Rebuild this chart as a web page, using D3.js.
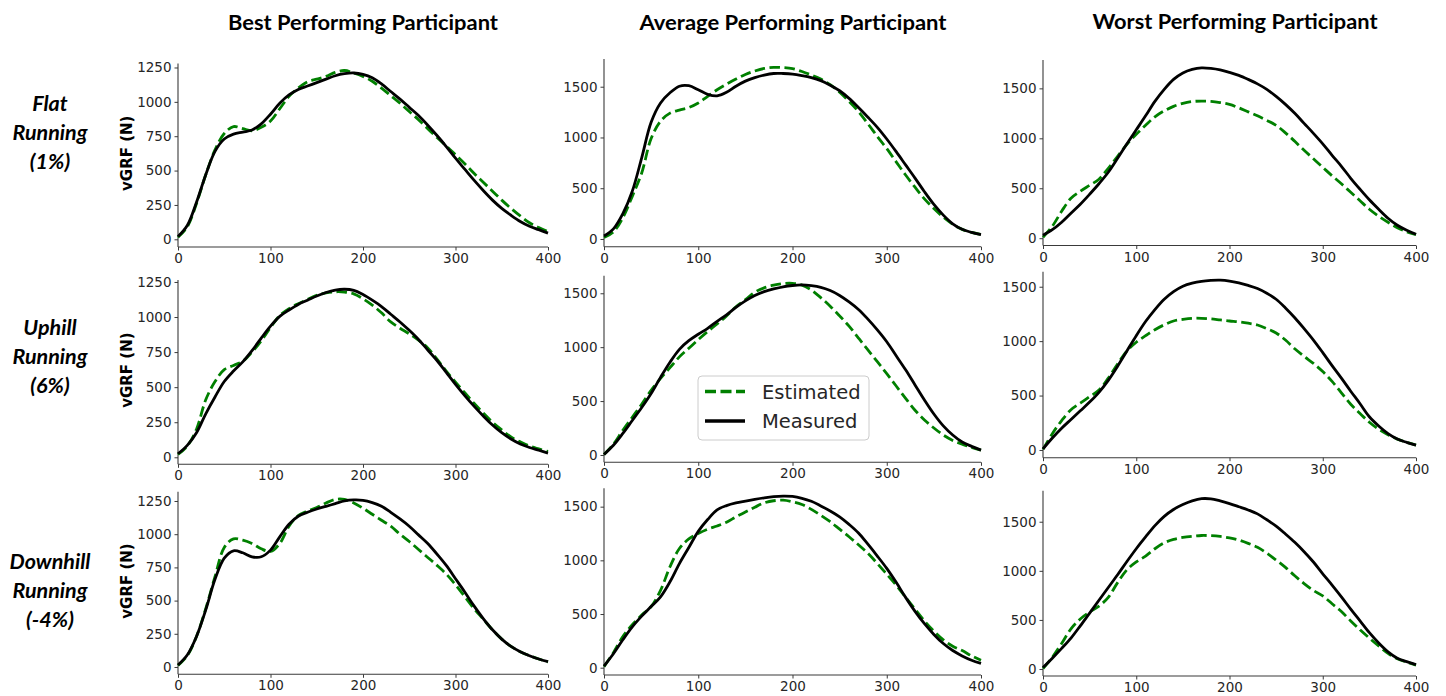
<!DOCTYPE html>
<html>
<head>
<meta charset="utf-8">
<script src="https://cdn.jsdelivr.net/npm/d3@7"></script>
<style>
  html, body { margin: 0; padding: 0; background: #fff; }
  svg { display: block; }
</style>
</head>
<body>
<svg id="chart" width="1446" height="696"></svg>
<script>
// ---------------- DATA ----------------
const columnTitles = ["Best Performing Participant", "Average Performing Participant", "Worst Performing Participant"];
const rowLabels = [["Flat", "Running", "(1%)"], ["Uphill", "Running", "(6%)"], ["Downhill", "Running", "(-4%)"]];
const yAxisLabel = "vGRF (N)";
const seriesNames = ["Estimated", "Measured"];
const xTicks = [0, 100, 200, 300, 400];
const yTicksBest = [0, 250, 500, 750, 1000, 1250];
const yTicksOther = [0, 500, 1000, 1500];
const xDomain = [0, 400];

const sampleX = [0,10,20,30,40,50,60,70,80,90,100,110,120,130,140,150,160,170,180,190,200,
                 210,220,230,240,250,260,270,280,290,300,310,320,330,340,350,360,370,380,390,400];

// Row 1: Flat running
const flatBestMeasured  = [20,100,270,470,640,730,765,780,795,840,910,990,1050,1090,1115,1140,1165,1190,1205,1210,1200,1175,1130,1075,1020,960,900,830,755,675,590,510,430,355,285,225,175,130,95,70,45];
const flatBestEstimated = [15,90,260,470,650,770,820,805,790,815,860,950,1040,1100,1145,1165,1185,1215,1228,1210,1185,1150,1100,1045,990,930,870,805,740,680,615,550,480,415,350,285,225,170,120,85,55];
const flatAvgMeasured   = [30,100,250,470,800,1150,1340,1440,1505,1510,1470,1425,1410,1445,1505,1555,1590,1615,1630,1630,1625,1610,1590,1560,1515,1460,1385,1295,1200,1100,985,860,730,600,465,340,235,150,95,65,43];
const flatAvgEstimated  = [15,70,210,420,650,990,1160,1240,1270,1295,1340,1405,1470,1525,1575,1620,1655,1680,1690,1688,1678,1650,1615,1575,1520,1445,1355,1255,1135,1010,890,760,630,510,395,300,215,145,95,65,45];
const flatWorstMeasured = [30,85,160,250,340,440,545,660,800,945,1085,1225,1370,1490,1590,1655,1690,1705,1700,1685,1660,1630,1590,1545,1490,1420,1340,1250,1150,1050,945,830,720,600,490,385,290,200,130,80,40];
const flatWorstEstimated= [10,120,270,400,470,530,590,700,820,940,1040,1130,1215,1275,1320,1350,1368,1373,1370,1358,1340,1305,1265,1225,1180,1130,1055,970,880,795,710,625,545,460,375,290,220,160,105,65,35];

// Row 2: Uphill running
const upBestMeasured    = [25,85,175,310,430,540,615,680,760,850,935,1005,1050,1090,1120,1150,1175,1192,1198,1190,1160,1120,1075,1020,965,905,840,765,690,605,520,440,365,295,230,175,130,95,70,50,30];
const upBestEstimated   = [20,80,200,410,540,625,655,685,750,830,925,1010,1060,1095,1125,1155,1172,1180,1178,1165,1130,1085,1030,965,920,880,835,780,700,615,535,460,385,315,250,195,145,110,80,60,42];
const upAvgMeasured     = [5,90,200,320,440,570,720,860,980,1060,1120,1175,1240,1300,1370,1430,1480,1515,1540,1560,1572,1577,1570,1555,1525,1480,1420,1350,1260,1160,1050,920,790,650,510,380,270,185,120,80,45];
const upAvgEstimated    = [5,100,230,350,470,600,710,810,910,990,1070,1145,1215,1290,1375,1440,1510,1550,1575,1590,1592,1575,1530,1460,1380,1290,1195,1085,975,865,755,640,525,415,325,250,185,135,100,70,45];
const upWorstMeasured   = [10,110,200,280,360,440,530,640,770,910,1050,1180,1290,1385,1455,1505,1533,1550,1558,1560,1552,1535,1512,1483,1440,1385,1305,1215,1115,1010,895,775,660,540,425,305,220,150,100,70,45];
const upWorstEstimated  = [5,150,270,370,430,490,550,660,790,910,990,1050,1105,1150,1185,1200,1210,1210,1205,1195,1185,1178,1165,1148,1115,1075,1010,930,860,795,720,630,525,420,335,255,190,140,100,70,45];

// Row 3: Downhill running
const downBestMeasured  = [15,90,230,430,660,820,875,860,830,830,880,980,1075,1135,1165,1190,1210,1230,1250,1258,1255,1238,1210,1165,1115,1060,995,930,850,765,665,565,460,365,280,210,155,115,85,60,40];
const downBestEstimated = [12,85,230,440,680,900,965,955,930,890,870,930,1060,1140,1175,1200,1235,1262,1262,1235,1195,1150,1105,1060,1000,945,885,825,765,700,620,530,440,360,280,210,155,115,85,60,38];
const downAvgMeasured   = [15,130,260,380,480,570,660,800,970,1120,1270,1380,1470,1510,1535,1552,1568,1582,1593,1598,1595,1578,1550,1507,1460,1405,1335,1255,1150,1040,925,795,655,525,410,310,225,160,110,70,40];
const downAvgEstimated  = [10,140,290,400,490,570,720,940,1110,1200,1250,1290,1320,1355,1405,1450,1495,1535,1555,1560,1545,1520,1475,1420,1360,1290,1220,1145,1065,970,870,770,655,545,435,340,260,200,160,110,70];
const downWorstMeasured = [15,110,210,315,440,570,700,830,960,1095,1225,1345,1460,1555,1625,1675,1712,1735,1733,1712,1685,1653,1620,1580,1520,1455,1375,1290,1195,1090,970,855,735,610,490,370,265,175,110,75,45];
const downWorstEstimated= [5,120,260,410,510,580,640,730,880,1010,1090,1150,1225,1285,1320,1340,1352,1360,1358,1350,1335,1313,1280,1240,1180,1110,1035,950,870,800,745,665,585,490,400,315,235,160,105,70,40];

// y-axis ranges of each panel (row-major)
const yDomains = [
  [-56, 1279], [-76, 1773], [-73, 1784],
  [-50, 1264], [-68, 1663], [-71, 1638],
  [-55, 1320], [-68, 1671], [-71, 1816]
];

const panelSeries = [
  [flatBestEstimated, flatBestMeasured], [flatAvgEstimated, flatAvgMeasured], [flatWorstEstimated, flatWorstMeasured],
  [upBestEstimated, upBestMeasured], [upAvgEstimated, upAvgMeasured], [upWorstEstimated, upWorstMeasured],
  [downBestEstimated, downBestMeasured], [downAvgEstimated, downAvgMeasured], [downWorstEstimated, downWorstMeasured]
];

// ---------------- LAYOUT ----------------
const colX = [[178, 548], [604, 981], [1043, 1416]];
const panelY = [
  [[63.5, 247], [59, 246.7], [60, 245.5]],
  [[280, 464.3], [275.7, 462.3], [271.7, 457.7]],
  [[491.7, 674.3], [488.3, 675], [490.7, 676]]
];
const titleLayout = [
  {cx: 363, y: 30, w: 270},
  {cx: 793, y: 30, w: 307},
  {cx: 1235, y: 29, w: 285}
];
const rowLabelY = [[103, 132, 161], [327, 356, 385], [561, 590, 619]];
const rowLabelX = 50;

const GREEN = "#008000";
const BLACK = "#000000";
const AXIS = "#3a3a3a";
const TEXT = "#262626";

const svg = d3.select("#chart");

// titles
columnTitles.forEach((t, i) => {
  svg.append("text")
    .attr("x", titleLayout[i].cx).attr("y", titleLayout[i].y)
    .attr("text-anchor", "middle")
    .attr("font-family", "Lato, 'Open Sans', sans-serif")
    .attr("font-weight", 700).attr("font-size", 20.5)
    .attr("textLength", titleLayout[i].w).attr("lengthAdjust", "spacingAndGlyphs")
    .attr("fill", "#000")
    .text(t);
});

// row labels
rowLabels.forEach((lines, r) => {
  lines.forEach((l, k) => {
    svg.append("text")
      .attr("x", rowLabelX).attr("y", rowLabelY[r][k])
      .attr("dy", "0.36em")
      .attr("text-anchor", "middle")
      .attr("font-family", "Lato, 'Open Sans', sans-serif")
      .attr("font-weight", 700).attr("font-style", "italic").attr("font-size", 21.5)
      .attr("fill", "#000")
      .text(l);
  });
});

const line = (xScale, yScale) => d3.line()
  .x((d, i) => xScale(sampleX[i]))
  .y(d => yScale(d))
  .curve(d3.curveCatmullRom.alpha(0.5));

const fmt = d3.format("d");

for (let r = 0; r < 3; r++) {
  for (let c = 0; c < 3; c++) {
    const idx = r * 3 + c;
    const [x0, x1] = colX[c];
    const [yTop, yBot] = panelY[r][c];
    const xScale = d3.scaleLinear().domain(xDomain).range([x0, x1]);
    const yScale = d3.scaleLinear().domain(yDomains[idx]).range([yBot, yTop]);
    const g = svg.append("g");

    const xAx = g.append("g").attr("transform", `translate(0,${yBot})`)
      .call(d3.axisBottom(xScale).tickValues(xTicks).tickFormat(fmt).tickSize(3.5).tickPadding(3).tickSizeOuter(0));
    const yAx = g.append("g").attr("transform", `translate(${x0},0)`)
      .call(d3.axisLeft(yScale).tickValues(c === 0 ? yTicksBest : yTicksOther).tickFormat(fmt).tickSize(3.5).tickPadding(3).tickSizeOuter(0));
    [xAx, yAx].forEach(a => {
      a.select(".domain").attr("stroke", AXIS).attr("stroke-width", 1.1);
      a.selectAll(".tick line").attr("stroke", AXIS).attr("stroke-width", 1);
      a.selectAll(".tick text").attr("fill", TEXT)
        .attr("font-family", "'DejaVu Sans', sans-serif").attr("font-size", 13.5);
    });
    xAx.select(".domain").attr("d", `M${x0},0H${x1}`);
    yAx.select(".domain").attr("d", `M0,${yTop}V${yBot}`);

    const [est, meas] = panelSeries[idx];
    g.append("path").datum(est)
      .attr("d", line(xScale, yScale))
      .attr("fill", "none").attr("stroke", GREEN).attr("stroke-width", 2.8)
      .attr("stroke-dasharray", "10.5,4.5");
    g.append("path").datum(meas)
      .attr("d", line(xScale, yScale))
      .attr("fill", "none").attr("stroke", BLACK).attr("stroke-width", 2.8)
      .attr("stroke-linejoin", "round");

    if (c === 0) {
      const cy = (yTop + yBot) / 2 - 2;
      svg.append("text")
        .attr("transform", `translate(127,${cy}) rotate(-90)`)
        .attr("text-anchor", "middle").attr("dy", "0.36em")
        .attr("font-family", "'DejaVu Sans', sans-serif")
        .attr("font-weight", 700).attr("font-size", 15)
        .attr("fill", "#000")
        .text(yAxisLabel);
    }
  }
}

// legend (in the uphill / average panel)
const lg = svg.append("g");
lg.append("rect")
  .attr("x", 698).attr("y", 376).attr("width", 171).attr("height", 64)
  .attr("rx", 4).attr("fill", "#fff").attr("fill-opacity", 0.85)
  .attr("stroke", "#cccccc").attr("stroke-width", 1);
const legendRows = [
  {name: seriesNames[0], y: 391.5, color: GREEN, dash: "11,4.5"},
  {name: seriesNames[1], y: 421, color: BLACK, dash: null}
];
legendRows.forEach(e => {
  const l = lg.append("line").attr("x1", 705).attr("x2", 745)
    .attr("y1", e.y).attr("y2", e.y)
    .attr("stroke", e.color).attr("stroke-width", 3.5);
  if (e.dash) l.attr("stroke-dasharray", e.dash);
  lg.append("text").attr("x", 762).attr("y", e.y).attr("dy", "0.36em")
    .attr("font-family", "'DejaVu Sans', sans-serif").attr("font-size", 19.5)
    .attr("fill", TEXT).text(e.name);
});
</script>
</body>
</html>
